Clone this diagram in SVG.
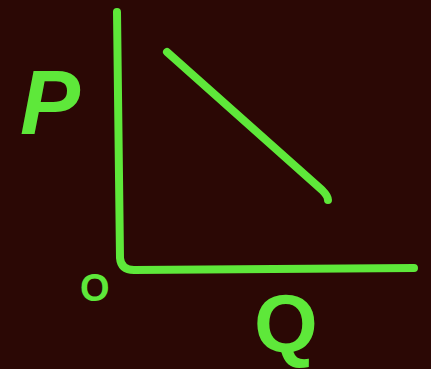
<svg xmlns="http://www.w3.org/2000/svg" width="431" height="369" viewBox="0 0 431 369">
<style>
.ink{fill:none;stroke:#5ee83a;stroke-width:8;stroke-linecap:round;stroke-linejoin:round}
.lbl{fill:#5ee83a;font-family:"Liberation Sans",Arial,sans-serif;font-weight:bold}
</style>
<rect width="431" height="369" fill="#2b0805"/>
<g id="connectors">
<path class="ink" d="M117,12 L120,258 Q121,270 134,270 L414,268"/>
<path class="ink" d="M167,52 L322,190 Q328,196 328,200"/>
</g>
<g id="label-P"><text class="lbl" x="20" y="134" font-size="90" font-style="italic">P</text></g>
<g id="label-O"><text class="lbl" x="80" y="301" font-size="38">O</text></g>
<g id="label-Q"><text class="lbl" x="254" y="352" font-size="82">Q</text></g>
</svg>
